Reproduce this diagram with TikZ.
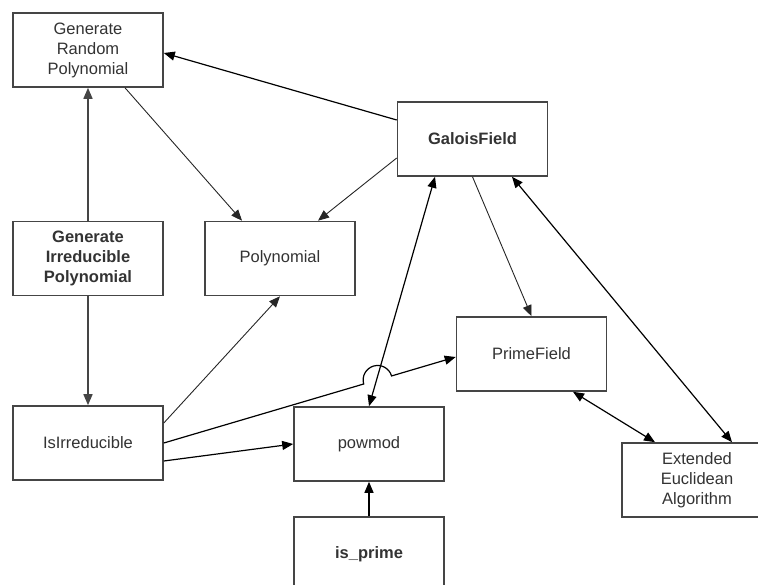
\documentclass[tikz,border=0pt]{standalone}
\usepackage{fontspec}
\setmainfont{Liberation Sans}
\usetikzlibrary{arrows.meta,calc}
\definecolor{boxline}{HTML}{454545}
\definecolor{txt}{HTML}{333333}
\tikzset{
  box/.style={draw=boxline, line width=1.6pt, fill=white, minimum width=150pt, minimum height=74pt,
    inner sep=2pt, align=center, text=txt, font=\fontsize{16.5}{20}\selectfont},
  boldbox/.style={box, font=\fontsize{16.5}{20}\selectfont\bfseries},
  conn/.style={draw=black, line width=1.2pt},
  thinconn/.style={draw=black!85, line width=0.9pt},
  tip/.style={-{Triangle[length=11pt,width=9pt]}},
  bitip/.style={{Triangle[length=11pt,width=9pt]}-{Triangle[length=11pt,width=9pt]}}
}
\begin{document}
\begin{tikzpicture}[x=1pt,y=1pt]
\useasboundingbox (0,0) rectangle (758,-585);
\clip (0,0) rectangle (758,-585);
\node[box] (grp) at (88,-50) {Generate\\Random\\Polynomial};
\node[boldbox] (gf) at (472.5,-139) {GaloisField};
\node[boldbox] (gip) at (88,-258.5) {Generate\\Irreducible\\Polynomial};
\node[box] (poly) at (280,-258.5) {Polynomial};
\node[box] (pf) at (531.5,-354) {PrimeField};
\node[box] (isirr) at (88,-443) {IsIrreducible};
\node[box] (powmod) at (369,-444) {powmod};
\node[boldbox] (isprime) at (369,-554) {is\_prime};
\node[box] (eea) at (697,-480) {Extended\\Euclidean\\Algorithm};
% connectors
\draw[conn,tip] ([yshift=19pt]gf.west) -- ([yshift=-3pt]grp.east);
\draw[thinconn,tip] ([xshift=37pt]grp.south) -- ([xshift=-38pt]poly.north);
\draw[thinconn,tip] ([yshift=-19pt]gf.west) -- ([xshift=38pt]poly.north);
\draw[conn,draw=boxline,line width=1.6pt,tip] (gip.north) -- (grp.south);
\draw[conn,draw=boxline,line width=1.6pt,tip] (gip.south) -- (isirr.north);
\draw[thinconn,tip] ([yshift=20pt]isirr.east) -- (poly.south);
\coordinate (hopL) at (363.7,-384.0);
\draw[conn,tip] (isirr.east) -- (hopL) arc[start angle=196.1, end angle=16.1, radius=14.5pt] -- ([yshift=-3pt]pf.west);
\draw[conn,tip] ([yshift=-18pt]isirr.east) -- (powmod.west);
\draw[conn,bitip] (powmod.north) -- ([xshift=-37.5pt]gf.south);
\draw[thinconn,tip] (gf.south) -- (pf.north);
\draw[conn,bitip] ([xshift=39.5pt]gf.south) -- ([xshift=35pt]eea.north);
\draw[conn,bitip] ([xshift=41.5pt]pf.south) -- ([xshift=-42pt]eea.north);
\draw[conn,tip] (isprime.north) -- (powmod.south);
\end{tikzpicture}
\end{document}
